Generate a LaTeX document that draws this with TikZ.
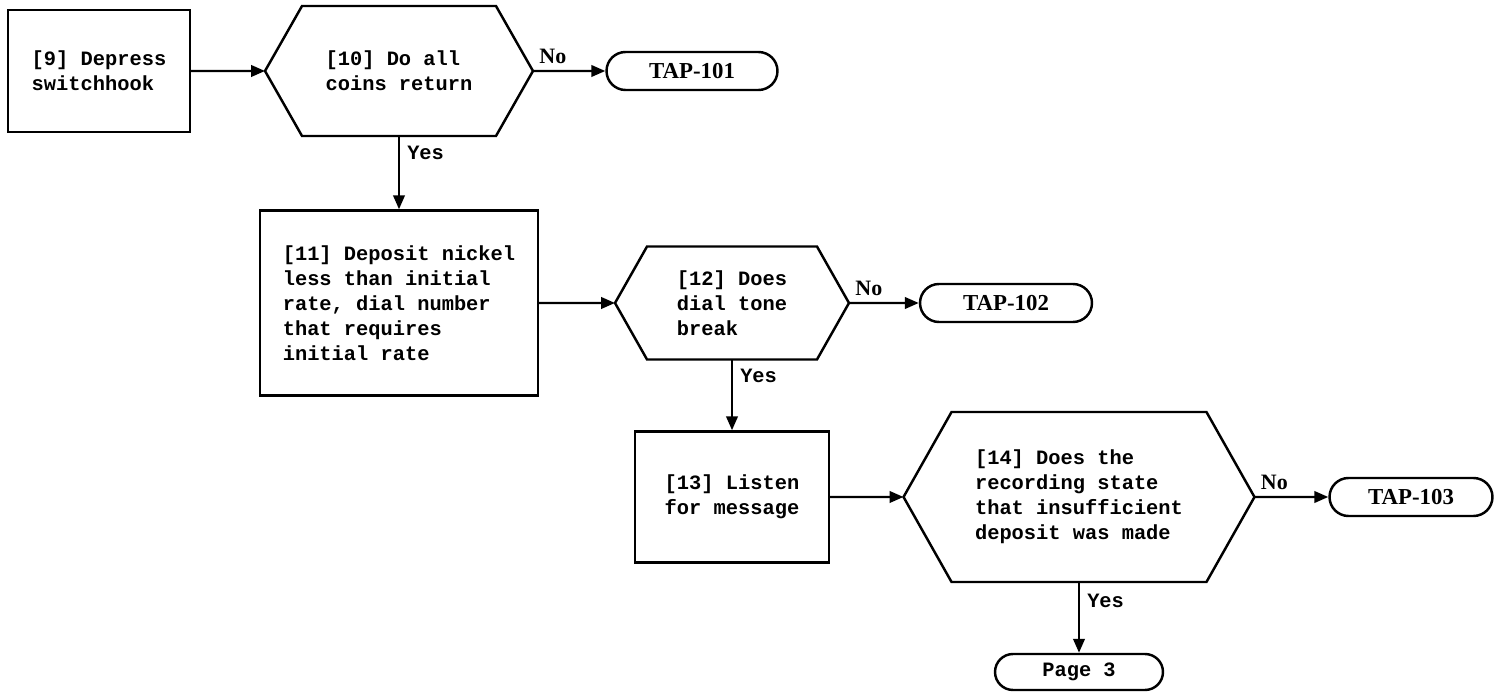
\documentclass[tikz,border=0pt]{standalone}
\usepackage{fontspec}
\setmainfont{Liberation Serif}
\setmonofont{Liberation Mono}
\usetikzlibrary{arrows.meta}

\begin{document}
\begin{tikzpicture}[x=0.02cm,y=-0.02cm,line width=1.4pt,>={Triangle[length=2.8mm,width=2.3mm]},
  procbox/.style={draw,align=left,inner sep=0pt,font=\ttfamily\bfseries\fontsize{11.6}{14.2}\selectfont},
  decbox/.style={align=left,inner sep=0pt,outer sep=0pt,font=\ttfamily\bfseries\fontsize{11.6}{14.2}\selectfont},
  termbox/.style={draw,rounded corners=0.38cm,minimum height=0.76cm,inner sep=0pt,font=\bfseries\fontsize{13}{15}\selectfont},
  yeslbl/.style={anchor=north west,inner sep=1pt,font=\ttfamily\bfseries\fontsize{11.6}{14}\selectfont},
  nolbl/.style={anchor=south west,inner sep=1pt,font=\bfseries\fontsize{12.5}{14}\selectfont}]
\useasboundingbox (0,0) rectangle (1495,692);

\node[procbox,minimum width=3.64cm,minimum height=2.44cm] (b9) at (99,71) {[9] Depress\\switchhook};
\node[decbox,minimum width=3.88cm,minimum height=2.6cm] (d10) at (399,71) {[10] Do all\\coins return};
\draw (d10.north west) -- (d10.north east) -- ++(37,65) coordinate (d10r) -- (d10.south east) -- (d10.south west) -- ++(-37,-65) coordinate (d10l) -- cycle;
\node[termbox,minimum width=3.42cm] (t101) at (692,71) {TAP-101};
\draw[->] (b9.east) -- (d10l);
\draw[->] (d10r) -- (t101.west);
\node[nolbl] (no10) at ([xshift=2pt,yshift=2.4pt]d10r) {No};

\node[procbox,minimum width=5.56cm,minimum height=3.7cm] (b11) at (399,303) {[11] Deposit nickel\\less than initial\\rate, dial number\\that requires\\initial rate};
\draw[->] (d10.south) -- (b11.north);
\node[yeslbl] (yes10) at ([xshift=3pt,yshift=-4pt]d10.south) {Yes};

\node[decbox,minimum width=3.4cm,minimum height=2.26cm] (d12) at (732,303) {[12] Does\\dial tone\\break};
\draw (d12.north west) -- (d12.north east) -- ++(32,56.5) coordinate (d12r) -- (d12.south east) -- (d12.south west) -- ++(-32,-56.5) coordinate (d12l) -- cycle;
\node[termbox,minimum width=3.44cm] (t102) at (1006,303) {TAP-102};
\draw[->] (b11.east) -- (d12l);
\draw[->] (d12r) -- (t102.west);
\node[nolbl] (no12) at ([xshift=2pt,yshift=2.4pt]d12r) {No};

\node[procbox,minimum width=3.88cm,minimum height=2.62cm] (b13) at (732,497) {[13] Listen\\for message};
\draw[->] (d12.south) -- (b13.north);
\node[yeslbl] (yes12) at ([xshift=3pt,yshift=-4pt]d12.south) {Yes};

\node[decbox,minimum width=5.1cm,minimum height=3.4cm] (d14) at (1079,497) {[14] Does the\\recording state\\that insufficient\\deposit was made};
\draw (d14.north west) -- (d14.north east) -- ++(48,85) coordinate (d14r) -- (d14.south east) -- (d14.south west) -- ++(-48,-85) coordinate (d14l) -- cycle;
\node[termbox,minimum width=3.26cm] (t103) at (1411,497) {TAP-103};
\draw[->] (b13.east) -- (d14l);
\draw[->] (d14r) -- (t103.west);
\node[nolbl] (no14) at ([xshift=2pt,yshift=2.4pt]d14r) {No};

\node[termbox,minimum width=3.36cm,minimum height=0.72cm,rounded corners=0.36cm,font=\ttfamily\bfseries\fontsize{11.6}{14}\selectfont] (p3) at (1079,672) {Page 3};
\draw[->] (d14.south) -- (p3.north);
\node[yeslbl] (yes14) at ([xshift=3pt,yshift=-5pt]d14.south) {Yes};
\end{tikzpicture}
\end{document}
